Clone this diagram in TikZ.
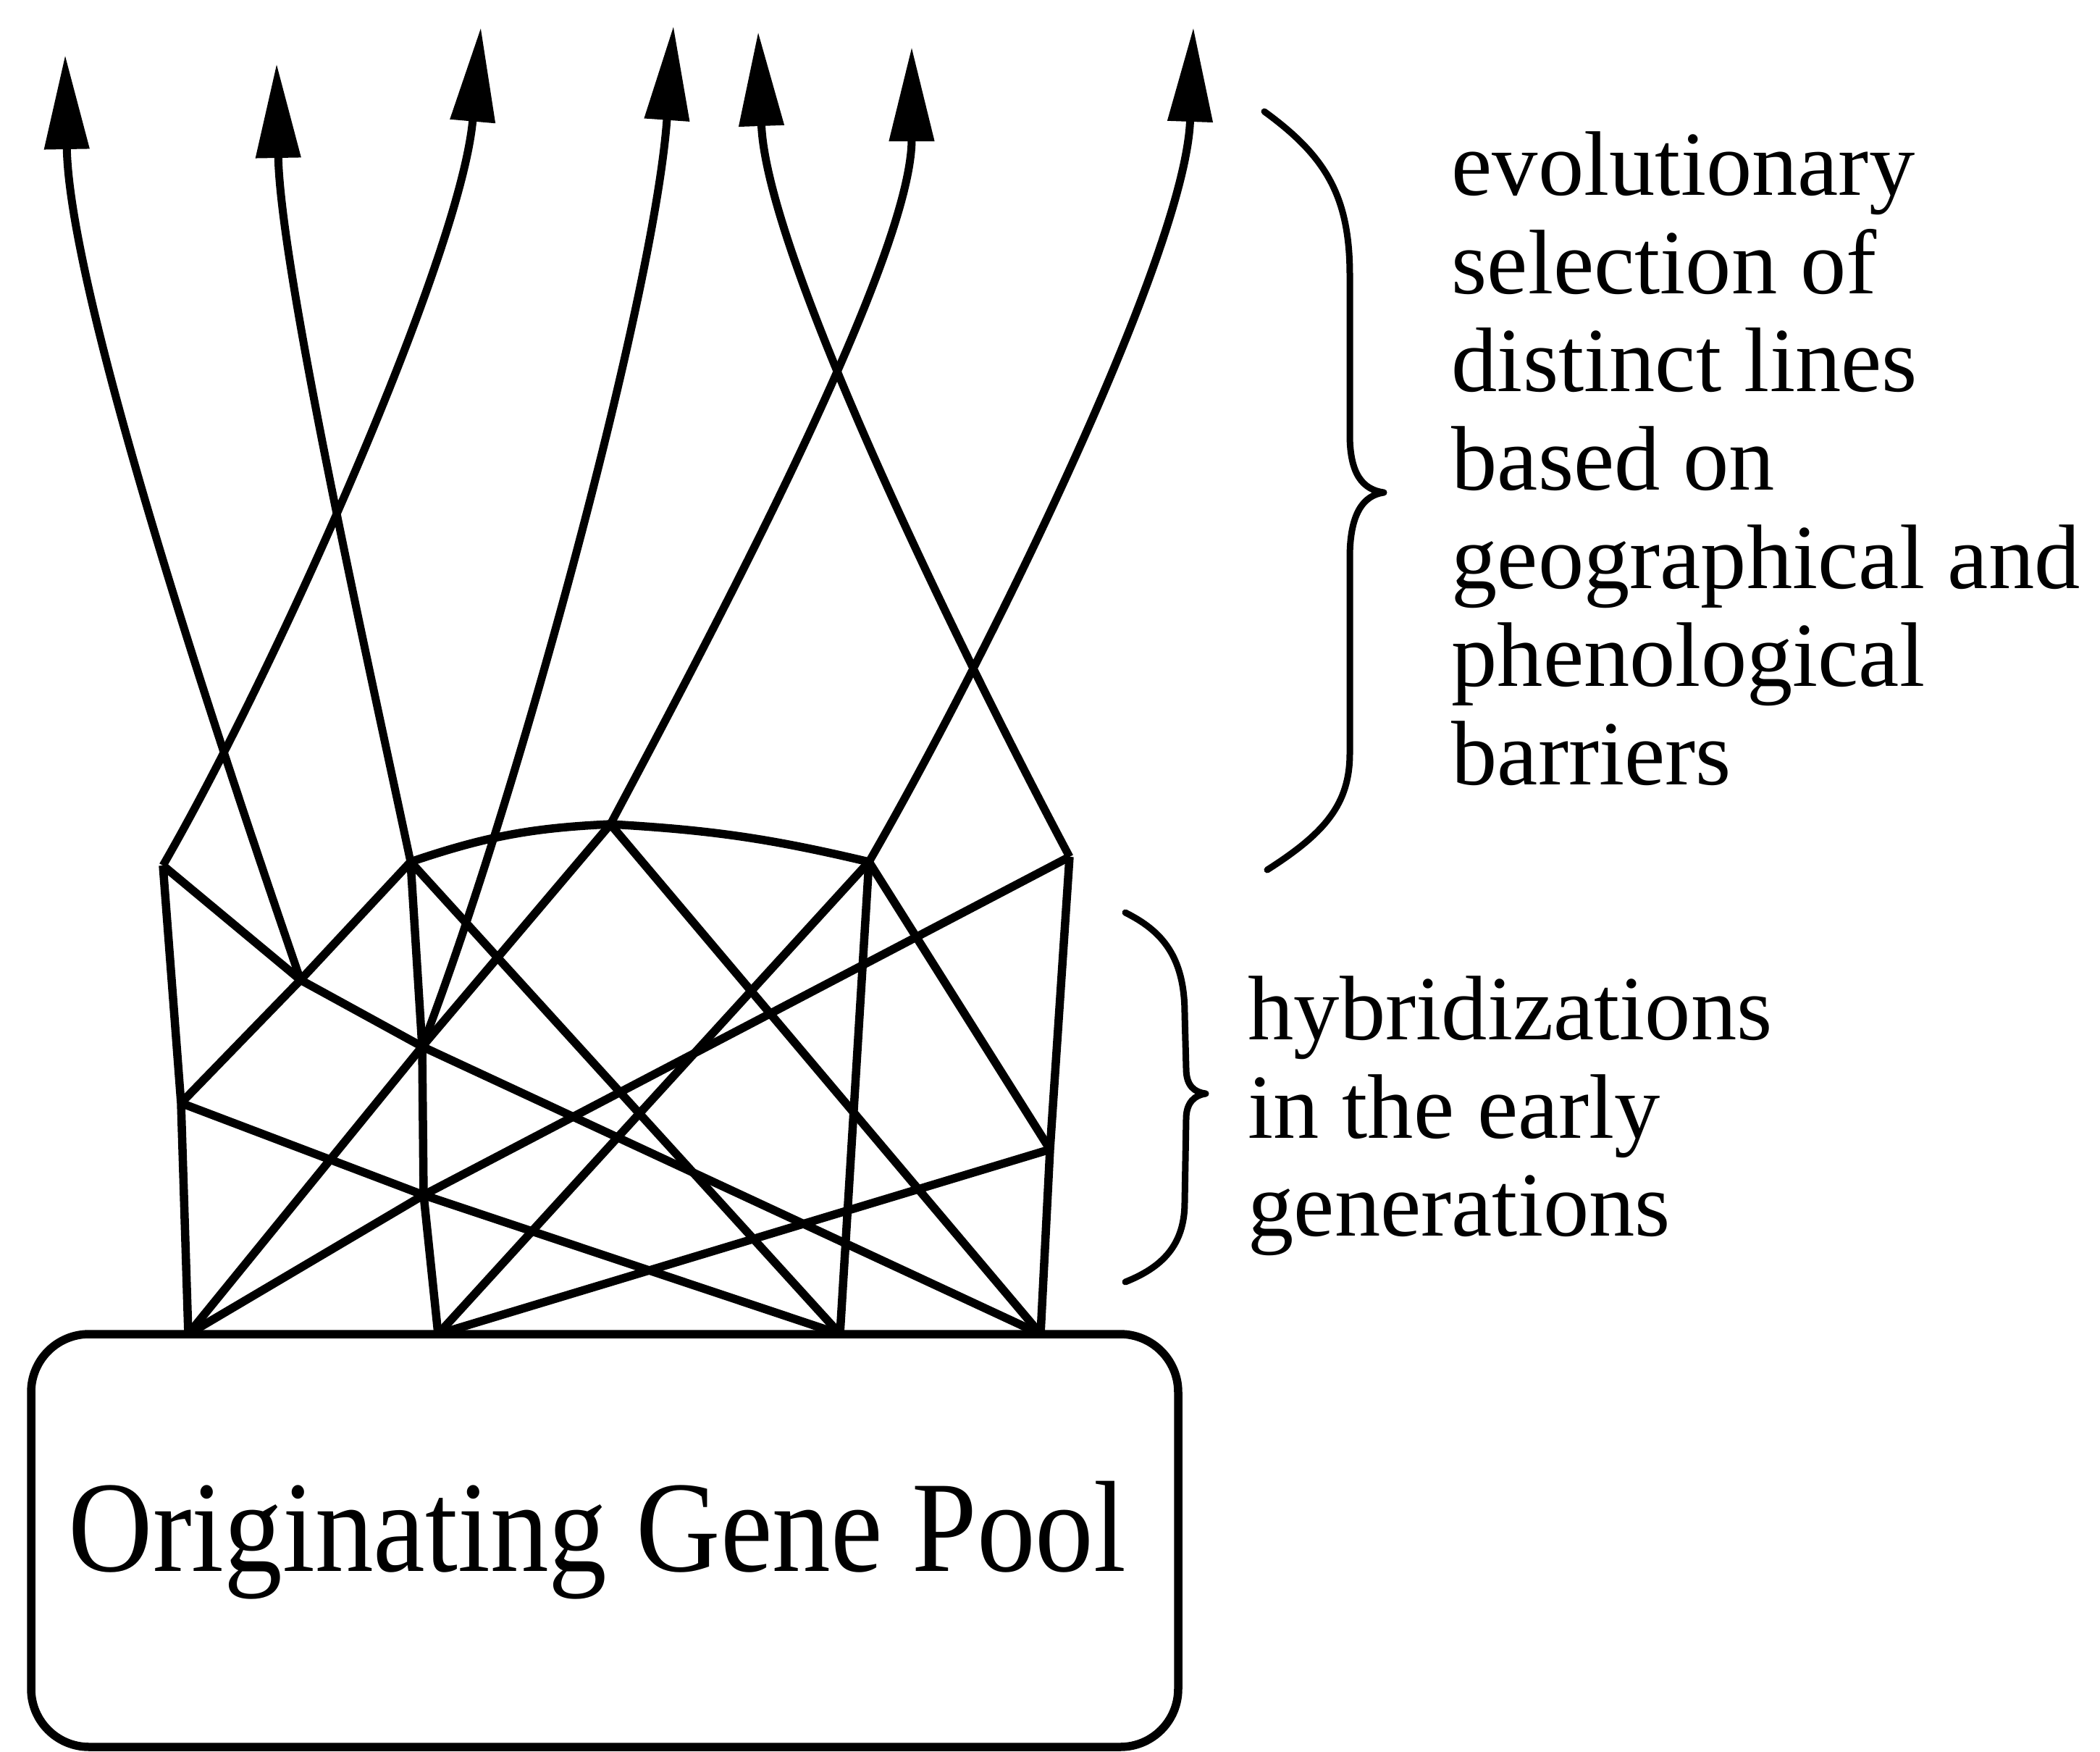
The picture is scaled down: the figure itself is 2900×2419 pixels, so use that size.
\documentclass[tikz,border=0pt]{standalone}
\usepackage{fontspec}
\setmainfont{Liberation Serif}
\newfontfamily\poolfont[FakeStretch=0.9]{Liberation Serif}
\usetikzlibrary{arrows.meta}

\begin{document}
\begin{tikzpicture}[x=0.1mm,y=0.1mm,line join=round,
  link/.style={line width=1.15mm},
  lineage/.style={line width=1.1mm,looseness=0.65,-{Triangle[length=13mm,width=6mm]}},
  brace/.style={line width=0.9mm,line cap=round},
  pool/.style={draw,line width=1.15mm,rounded corners=8mm,minimum width=158.4mm,minimum height=57mm,inner sep=0pt,font=\poolfont\fontsize{51}{54}\selectfont},
  note/.style={anchor=north west,inner sep=0pt,align=left,font=\fontsize{36}{38.6}\selectfont}]
\useasboundingbox (0,0) rectangle (2900,-2419);
\node[pool] (pool) at (835,-2127) {Originating Gene Pool\hspace*{2mm}};
\foreach \n/\x/\y in {l1/225/1195,l2/250/1523,x1/415/1353,m1/567/1190,j1/583/1445,j2/585/1650,peak/843/1138,r1/1200/1190,r2/1477/1183,r3/1450/1587,b1/260/1842,b2/605/1842,b3/1160/1842,b4/1437/1842}
  \coordinate (\n) at (\x,-\y);
\foreach \n/\x/\y in {a1/90/76,a2/382/88,a3/664/38,a4/930/36,a5/1047/44,a6/1259/65,a7/1648/38}
  \coordinate (\n) at (\x,-\y);
\draw[link] (l1) -- (l2) -- (b1);
\draw[link] (m1) -- (j1) -- (j2) -- (b2);
\draw[link] (r1) -- (b3);
\draw[link] (r2) -- (r3) -- (b4);
\draw[link] (m1) to[bend left=8] (peak) to[bend left=5] (r1);
\draw[link] (l1) -- (x1) -- (j1);
\draw[link] (m1) -- (x1) -- (l2);
\draw[link] (l2) -- (j2) -- (b3);
\draw[link] (b1) -- (j2) -- (r2);
\draw[link] (b1) -- (j1) -- (peak);
\foreach \p/\q in {m1/b3,peak/b4,j1/b4,r1/r3,r1/b2,r3/b2}
  \draw[link] (\p) -- (\q);
\draw[lineage] (x1) to[out=109,in=-89] (a1);
\draw[lineage] (m1) to[out=102,in=-89] (a2);
\draw[lineage] (l1) to[out=60,in=-95] (a3);
\draw[lineage] (j1) to[out=69,in=-94] (a4);
\draw[lineage] (r2) to[out=118,in=-88] (a5);
\draw[lineage] (peak) to[out=62,in=-90] (a6);
\draw[lineage] (r1) to[out=60,in=-92] (a7);
\draw[brace] (1746,-154) .. controls (1830,-215) and (1864,-270) .. (1864,-380) -- (1864,-600)
  .. controls (1864,-655) and (1882,-676) .. (1911,-680) .. controls (1882,-684) and (1864,-710) .. (1864,-770)
  -- (1864,-1040) .. controls (1864,-1110) and (1830,-1150) .. (1750,-1201);
\draw[brace] (1554,-1260) .. controls (1604,-1285) and (1636,-1320) .. (1636,-1400) -- (1638,-1475)
  .. controls (1638,-1500) and (1650,-1508) .. (1665,-1510) .. controls (1650,-1512) and (1638,-1522) .. (1638,-1545)
  -- (1636,-1660) .. controls (1636,-1720) and (1604,-1750) .. (1554,-1770);
\node[note] (select) at (2004,-181) {evolutionary\\selection of\\distinct lines\\based on\\geographical and\\phenological\\barriers};
\node[note] (hybrid) at (1723,-1347) {hybridizations\\in the early\\generations};
\end{tikzpicture}
\end{document}
